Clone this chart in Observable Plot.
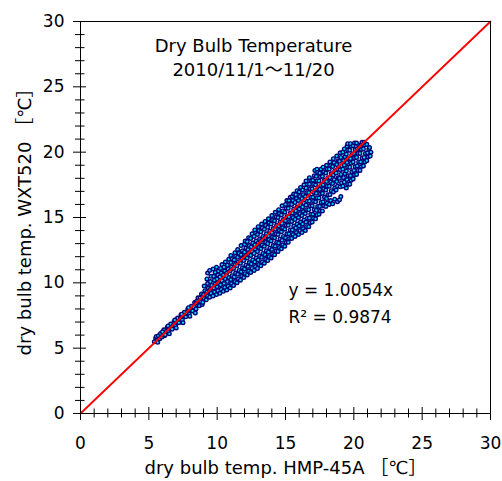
<!DOCTYPE html>
<html><head><meta charset="utf-8">
<script src="https://cdn.jsdelivr.net/npm/d3@7"></script>
<script src="https://cdn.jsdelivr.net/npm/@observablehq/plot@0.6"></script>
<style>body{margin:0;background:#fff}#chart svg{display:block}</style>
</head><body><div id="chart"></div>
<script>
// ---- data ----
const xDomain = [0, 30];
const yDomain = [0, 30];
const majorTicks = [0, 5, 10, 15, 20, 25, 30];
const minorTicks = [1,2,3,4,6,7,8,9,11,12,13,14,16,17,18,19,21,22,23,24,26,27,28,29];
const titleLines = ["Dry Bulb Temperature", "2010/11/1～11/20"];
const fitLines = ["y = 1.0054x", "R² = 0.9874"];
const xLabel = "dry bulb temp. HMP-45A ［℃］";
const yLabel = "dry bulb temp. WXT520 ［℃］";
const identity = [0, 30];
// [HMP-45A, WXT520] samples
const samples = [
[5.4,5.5],[5.5,5.78],[5.6,5.6],[5.55,5.9],[5.65,5.45],
[5.7,5.95],[5.8,5.72],[5.85,6.12],
[5.95,5.85],[6.05,6.1],[6.1,6.4],[6.0,6.25],[6.15,5.95],
[6.2,6.02],[6.3,6.3],[6.35,6.6],
[6.45,6.25],[6.55,6.55],[6.6,6.85],[6.4,6.7],[6.5,6.1],
[6.7,6.45],[6.8,6.75],[6.85,7.05],
[6.95,6.7],[7.05,7.0],[7.1,7.3],[6.9,7.15],[7.0,6.55],
[7.2,6.95],[7.3,7.25],[7.35,7.55],
[7.45,7.15],[7.55,7.45],[7.6,7.75],[7.4,7.6],[7.5,6.95],
[7.7,7.4],[7.8,7.7],[7.85,8.0],
[7.95,7.6],[8.05,7.9],[8.1,8.2],[7.9,8.1],[8.0,7.45],
[8.2,7.85],[8.3,8.15],[8.35,8.5],[8.4,7.7],
[8.45,8.0],[8.55,8.3],[8.5,8.6],[8.6,8.85],[8.45,8.45],
[8.7,8.25],[8.8,8.55],[8.75,8.85],[8.85,9.15],[8.9,8.35],[8.95,9.0],
[8.95,8.5],[9.05,8.8],[9.0,9.1],[9.1,9.4],[9.05,9.75],
[9.2,8.7],[9.3,9.0],[9.25,9.3],[9.35,9.6],[9.3,9.95],[9.25,10.3],[9.3,10.75],
[9.45,8.9],[9.55,9.2],[9.5,9.5],[9.6,9.8],[9.5,10.1],[9.55,10.5],[9.45,10.95],
[9.7,9.0],[9.8,9.3],[9.75,9.6],[9.85,9.9],[9.8,10.2],[9.75,10.5],[9.85,10.8],[9.7,11.05],
[9.95,9.1],[10.05,9.4],[10.0,9.7],[10.1,10.0],[10.0,10.3],[10.05,10.6],[10.1,10.9],[9.95,11.2],
[10.2,9.2],[10.3,9.5],[10.25,9.85],[10.35,10.15],[10.2,10.45],[10.3,10.75],[10.25,11.1],[10.35,11.4],
[10.45,9.35],[10.55,9.65],[10.5,9.95],[10.6,10.3],[10.45,10.6],[10.55,10.9],[10.5,11.2],[10.6,11.6],
[10.7,9.45],[10.8,9.75],[10.75,10.1],[10.85,10.4],[10.7,10.75],[10.8,11.05],[10.75,11.35],[10.85,11.8],
[10.95,9.6],[11.05,9.95],[11.0,10.25],[11.1,10.55],[10.95,10.9],[11.05,11.2],[11.0,11.55],[11.1,11.85],[11.0,12.1],
[11.2,9.8],[11.3,10.1],[11.25,10.45],[11.35,10.75],[11.2,11.1],[11.3,11.4],[11.25,11.75],[11.35,12.05],[11.3,12.3],
[11.45,10.0],[11.55,10.3],[11.5,10.65],[11.6,10.95],[11.45,11.3],[11.55,11.6],[11.5,11.95],[11.6,12.25],[11.5,12.55],
[11.7,10.2],[11.8,10.5],[11.75,10.85],[11.85,11.15],[11.7,11.5],[11.8,11.8],[11.75,12.15],[11.85,12.45],[11.75,12.85],
[11.95,10.4],[12.05,10.7],[12.0,11.05],[12.1,11.35],[11.95,11.7],[12.05,12.0],[12.0,12.35],[12.1,12.65],[12.0,12.95],[12.05,13.2],
[12.2,10.6],[12.3,10.9],[12.25,11.25],[12.35,11.55],[12.2,11.9],[12.3,12.2],[12.25,12.55],[12.35,12.85],[12.2,13.15],[12.3,13.45],
[12.45,10.8],[12.55,11.1],[12.5,11.45],[12.6,11.75],[12.45,12.1],[12.55,12.4],[12.5,12.75],[12.6,13.05],[12.45,13.4],[12.55,13.75],
[12.7,10.95],[12.8,11.25],[12.75,11.6],[12.85,11.9],[12.7,12.25],[12.8,12.55],[12.75,12.9],[12.85,13.2],[12.7,13.55],[12.8,13.85],[12.75,14.05],
[12.95,11.1],[13.05,11.4],[13.0,11.75],[13.1,12.05],[12.95,12.4],[13.05,12.7],[13.0,13.05],[13.1,13.35],[12.95,13.7],[13.05,14.0],[13.0,14.3],
[13.2,11.3],[13.3,11.6],[13.25,11.95],[13.35,12.25],[13.2,12.6],[13.3,12.9],[13.25,13.25],[13.35,13.55],[13.2,13.9],[13.3,14.2],[13.25,14.5],
[13.45,11.5],[13.55,11.8],[13.5,12.15],[13.6,12.45],[13.45,12.8],[13.55,13.1],[13.5,13.45],[13.6,13.75],[13.45,14.1],[13.55,14.4],[13.5,14.7],
[13.7,11.7],[13.8,12.0],[13.75,12.35],[13.85,12.65],[13.7,13.0],[13.8,13.3],[13.75,13.6],[13.85,13.95],[13.7,14.25],[13.8,14.6],[13.75,14.9],
[13.95,11.9],[14.05,12.2],[14.0,12.55],[14.1,12.85],[13.95,13.2],[14.05,13.5],[14.0,13.85],[14.1,14.15],[13.95,14.5],[14.05,14.8],[14.0,15.15],
[14.2,12.15],[14.3,12.45],[14.25,12.8],[14.35,13.1],[14.2,13.45],[14.3,13.75],[14.25,14.1],[14.35,14.4],[14.2,14.75],[14.3,15.05],[14.25,15.4],
[14.45,12.4],[14.55,12.7],[14.5,13.05],[14.6,13.35],[14.45,13.7],[14.55,14.0],[14.5,14.35],[14.6,14.65],[14.45,15.0],[14.55,15.3],[14.5,15.6],
[14.7,12.6],[14.8,12.9],[14.75,13.25],[14.85,13.55],[14.7,13.9],[14.8,14.2],[14.75,14.55],[14.85,14.85],[14.7,15.2],[14.8,15.5],[14.75,15.9],
[14.95,12.8],[15.05,13.1],[15.0,13.45],[15.1,13.75],[14.95,14.1],[15.05,14.4],[15.0,14.75],[15.1,15.05],[14.95,15.4],[15.05,15.7],[15.0,16.0],[15.1,16.3],
[15.2,13.1],[15.3,13.4],[15.25,13.75],[15.35,14.05],[15.2,14.4],[15.3,14.7],[15.25,15.05],[15.35,15.35],[15.2,15.7],[15.3,16.0],[15.25,16.3],[15.35,16.55],
[15.45,13.4],[15.55,13.7],[15.5,14.05],[15.6,14.35],[15.45,14.7],[15.55,15.0],[15.5,15.35],[15.6,15.65],[15.45,16.0],[15.55,16.3],[15.5,16.6],[15.6,16.8],
[15.7,13.55],[15.8,13.85],[15.75,14.2],[15.85,14.5],[15.7,14.85],[15.8,15.15],[15.75,15.5],[15.85,15.8],[15.7,16.15],[15.8,16.45],[15.75,16.75],[15.85,17.05],
[15.95,13.7],[16.05,14.0],[16.0,14.35],[16.1,14.65],[15.95,15.0],[16.05,15.3],[16.0,15.65],[16.1,15.95],[15.95,16.3],[16.05,16.6],[16.0,16.95],[16.1,17.3],
[16.2,13.85],[16.3,14.15],[16.25,14.5],[16.35,14.8],[16.2,15.15],[16.3,15.45],[16.25,15.8],[16.35,16.1],[16.2,16.45],[16.3,16.75],[16.25,17.1],[16.35,17.5],
[16.45,14.0],[16.55,14.3],[16.5,14.65],[16.6,14.95],[16.45,15.3],[16.55,15.6],[16.5,15.95],[16.6,16.25],[16.45,16.6],[16.55,16.9],[16.5,17.25],[16.6,17.55],[16.5,17.8],
[16.7,14.3],[16.8,14.6],[16.75,14.95],[16.85,15.25],[16.7,15.6],[16.8,15.9],[16.75,16.25],[16.85,16.55],[16.7,16.9],[16.8,17.2],[16.75,17.55],[16.85,17.85],[16.75,18.05],
[16.95,14.65],[17.05,14.95],[17.0,15.25],[17.1,15.6],[16.95,15.9],[17.05,16.25],[17.0,16.55],[17.1,16.9],[16.95,17.2],[17.05,17.55],[17.0,17.85],[17.1,18.2],[17.15,18.6],[17.3,18.7],
[17.2,14.9],[17.3,15.2],[17.25,15.55],[17.35,15.85],[17.2,16.2],[17.3,16.5],[17.25,16.85],[17.35,17.15],[17.2,17.5],[17.3,17.8],[17.25,18.15],[17.35,18.45],
[17.45,15.25],[17.55,15.5],[17.5,15.85],[17.6,16.15],[17.45,16.5],[17.55,16.8],[17.5,17.15],[17.6,17.45],[17.45,17.8],[17.55,18.1],[17.5,18.4],[17.6,18.7],
[17.7,15.5],[17.8,15.9],[17.75,16.2],[17.85,16.55],[17.7,16.85],[17.8,17.2],[17.75,17.5],[17.85,17.85],[17.7,18.15],[17.8,18.5],[17.75,18.85],
[17.95,15.85],[18.05,16.1],[18.0,16.45],[18.1,16.75],[17.95,17.1],[18.05,17.4],[18.0,17.75],[18.1,18.05],[17.95,18.4],[18.05,18.7],[18.0,19.0],
[18.2,16.0],[18.3,16.3],[18.25,16.75],[18.35,17.05],[18.2,17.4],[18.3,17.7],[18.25,18.05],[18.35,18.35],[18.2,18.7],[18.3,19.0],[18.25,19.25],
[18.45,16.05],[18.6,16.4],[18.5,16.95],[18.6,17.25],[18.45,17.6],[18.55,17.9],[18.5,18.25],[18.6,18.55],[18.45,18.9],[18.55,19.2],[18.5,19.5],
[18.8,16.2],[18.7,17.1],[18.8,17.4],[18.75,17.75],[18.85,18.05],[18.7,18.4],[18.8,18.7],[18.75,19.05],[18.85,19.35],[18.75,19.7],
[18.95,16.35],[19.05,16.6],[19.0,17.35],[19.1,17.65],[18.95,18.0],[19.05,18.3],[19.0,18.65],[19.1,18.95],[18.95,19.3],[19.05,19.6],[19.0,19.95],
[19.2,17.4],[19.3,17.7],[19.25,18.05],[19.35,18.35],[19.2,18.7],[19.3,19.0],[19.25,19.35],[19.35,19.65],[19.2,20.0],[19.3,20.25],
[19.45,17.25],[19.55,17.55],[19.5,17.9],[19.6,18.2],[19.45,18.55],[19.55,18.85],[19.5,19.2],[19.6,19.5],[19.45,19.85],[19.55,20.15],[19.5,20.45],[19.55,20.65],
[19.7,17.55],[19.8,17.85],[19.75,18.2],[19.85,18.5],[19.7,18.85],[19.8,19.15],[19.75,19.5],[19.85,19.8],[19.7,20.15],[19.8,20.45],[19.75,20.65],
[19.95,17.95],[20.05,18.25],[20.0,18.6],[20.1,18.9],[19.95,19.25],[20.05,19.55],[20.0,19.9],[20.1,20.2],[19.95,20.5],[20.05,20.7],
[20.2,18.3],[20.3,18.6],[20.25,18.95],[20.35,19.25],[20.2,19.6],[20.3,19.9],[20.25,20.25],[20.35,20.55],[20.2,20.7],
[20.45,18.6],[20.55,18.9],[20.5,19.25],[20.6,19.55],[20.45,19.9],[20.55,20.2],[20.5,20.5],[20.6,20.75],
[20.7,18.95],[20.8,19.25],[20.75,19.6],[20.85,19.9],[20.7,20.25],[20.8,20.55],[20.75,20.75],
[20.95,19.35],[21.05,19.65],[21.0,19.95],[21.1,20.25],[20.95,20.6],
[21.2,19.7],[21.25,20.0],[21.15,20.35]
];

// ---- layout ----
const W = 502, H = 481, mL = 80, mR = 12, mT = 21, mB = 68;
const pw = W - mL - mR, ph = H - mT - mB;
const font = "'DejaVu Sans', 'Noto Sans CJK JP', sans-serif";

const chart = Plot.plot({
  width: W, height: H,
  marginLeft: mL, marginRight: mR, marginTop: mT, marginBottom: mB,
  style: {fontFamily: font, fontSize: "17px", color: "black", background: "white"},
  x: {domain: xDomain, ticks: majorTicks},
  y: {domain: yDomain, ticks: majorTicks},
  marks: [
    Plot.dot(samples, {x: d => d[0], y: d => d[1], r: 1.8, fill: "#00e0ff", stroke: "#000078", strokeWidth: 1.4}),
    Plot.line(identity, {x: d => d, y: d => d, stroke: "#ff0000", strokeWidth: 1.8}),
    Plot.frame({stroke: "black", strokeWidth: 1}),
    Plot.tickX(majorTicks, {x: d => d, insetTop: ph - 6, insetBottom: -7, stroke: "black"}),
    Plot.tickX(minorTicks, {x: d => d, insetTop: ph - 4.5, insetBottom: -4.5, stroke: "black"}),
    Plot.tickY(majorTicks, {y: d => d, insetLeft: -7, insetRight: pw - 6, stroke: "black"}),
    Plot.tickY(minorTicks, {y: d => d, insetLeft: -5, insetRight: pw - 4.5, stroke: "black"}),
    Plot.axisX({ticks: majorTicks, tickSize: 0, tickPadding: 23, fontSize: 17, label: null}),
    Plot.axisY({ticks: majorTicks, tickSize: 0, tickPadding: 16, fontSize: 17, label: null}),
    Plot.text([xLabel], {text: d => d, frameAnchor: "bottom", textAnchor: "middle", dy: 60, fontSize: 18}),
    Plot.text([yLabel], {text: d => d, frameAnchor: "left", textAnchor: "middle", dx: -55, rotate: -90, fontSize: 18}),
    Plot.text([titleLines.join("\n")], {text: d => d, frameAnchor: "top", lineAnchor: "top", dx: -32, dy: 13, lineHeight: 1.333, fontSize: 18}),
    Plot.text([fitLines.join("\n")], {text: d => d, frameAnchor: "top-left", textAnchor: "start", lineAnchor: "top", dx: 208, dy: 255, lineHeight: 1.59, fontSize: 17})
  ]
});
document.getElementById("chart").appendChild(chart);
</script>
</body></html>
